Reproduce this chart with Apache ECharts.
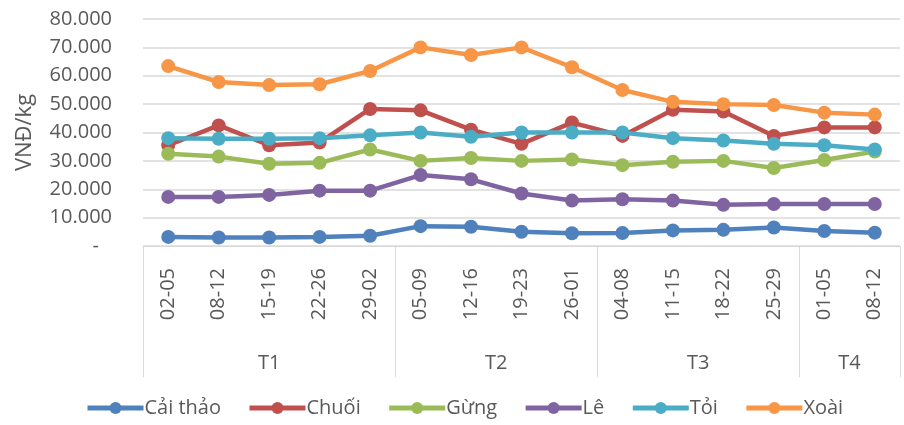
<!DOCTYPE html>
<html>
<head>
<meta charset="utf-8">
<script src="https://cdn.jsdelivr.net/npm/echarts@6/dist/echarts.min.js"></script>
<style>html,body{margin:0;padding:0;background:#fff;}#c{width:904px;height:425px;}</style>
</head>
<body>
<div id="c"></div>
<script>
var categories = ['02-05','08-12','15-19','22-26','29-02','05-09','12-16','19-23','26-01','04-08','11-15','18-22','25-29','01-05','08-12'];
var groups = ['T1','T2','T3','T4'];
var groupSizes = [5,4,4,2];
var yTicks = [0,10000,20000,30000,40000,50000,60000,70000,80000];

var caiThao = [3200,3000,3000,3200,3600,7000,6800,5000,4500,4600,5500,5700,6500,5300,4700];
var chuoi   = [35500,42500,35500,36500,48300,47800,41000,36000,43500,38800,48000,47400,38800,41800,41800];
var gung    = [32500,31500,29000,29300,34000,30000,31000,30000,30500,28500,29700,30000,27500,30300,33300];
var le      = [17300,17300,18000,19500,19500,25000,23500,18500,16000,16500,16000,14500,14800,14800,14800];
var toi     = [38000,37800,37800,38000,39000,40000,38500,40000,40000,40000,38000,37200,36000,35500,34000];
var xoai    = [63400,57800,56700,57000,61700,70000,67300,70000,63000,55000,50800,50000,49700,47000,46300];

var seriesNames = ['Cải thảo','Chuối','Gừng','Lê','Tỏi','Xoài'];
var seriesData = [caiThao, chuoi, gung, le, toi, xoai];
var colors = ['#4F81BD','#C0504D','#9BBB59','#8064A2','#4BACC6','#F79646'];

var bounds = [0], centers = [];
groupSizes.forEach(function(s){ var b = bounds[bounds.length-1]; centers.push(b + s/2); bounds.push(b + s); });

var font = '"Open Sans", sans-serif';
var chart = echarts.init(document.getElementById('c'));
chart.setOption({
  animation: false,
  color: colors,
  textStyle: { fontFamily: font },
  grid: { left: 143, right: 4, top: 19, bottom: 179 },
  legend: {
    bottom: 2, left: 80,
    itemWidth: 56, itemHeight: 15, itemGap: 26,
    lineStyle: { width: 5 },
    textStyle: { fontSize: 20, color: '#595959', fontFamily: font, padding: [0,0,0,-4] },
    data: seriesNames
  },
  xAxis: [{
    type: 'category',
    data: categories,
    boundaryGap: true,
    axisLine: { lineStyle: { color: '#d9d9d9', width: 1 } },
    axisTick: { show: false },
    axisLabel: { rotate: 90, margin: 22, fontSize: 20, color: '#595959', fontFamily: font }
  }, {
    type: 'value',
    position: 'bottom',
    min: 0, max: categories.length,
    axisLine: { show: false },
    splitLine: { show: false },
    axisTick: { show: true, length: 131, customValues: bounds, lineStyle: { color: '#d9d9d9', width: 1 } },
    axisLabel: {
      margin: 107, fontSize: 20, color: '#595959', fontFamily: font,
      customValues: centers,
      formatter: function(v){ var i = centers.indexOf(v); return i >= 0 ? groups[i] : ''; }
    }
  }],
  yAxis: {
    type: 'value',
    min: 0, max: 80000, interval: 10000,
    name: 'VNĐ/kg', nameLocation: 'middle', nameGap: 107, nameRotate: 90,
    nameTextStyle: { fontSize: 22, color: '#595959', fontFamily: font },
    axisLine: { show: false },
    axisTick: { show: false },
    splitLine: { lineStyle: { color: '#d9d9d9', width: 1.5 } },
    axisLabel: {
      margin: 31, fontSize: 20, color: '#595959', fontFamily: font,
      formatter: function(v){
        if (v === 0) return '{d|-}';
        return (v/1000).toFixed(0) + '.000';
      },
      rich: { d: { fontSize: 20, color: '#595959', padding: [0,13,0,0] } }
    }
  },
  series: seriesNames.map(function(n, i){
    return {
      name: n, type: 'line', data: seriesData[i], xAxisIndex: 0,
      symbol: 'circle', symbolSize: 14, showSymbol: true,
      lineStyle: { width: 4.5, color: colors[i] },
      itemStyle: { color: colors[i] }
    };
  })
});
</script>
</body>
</html>
